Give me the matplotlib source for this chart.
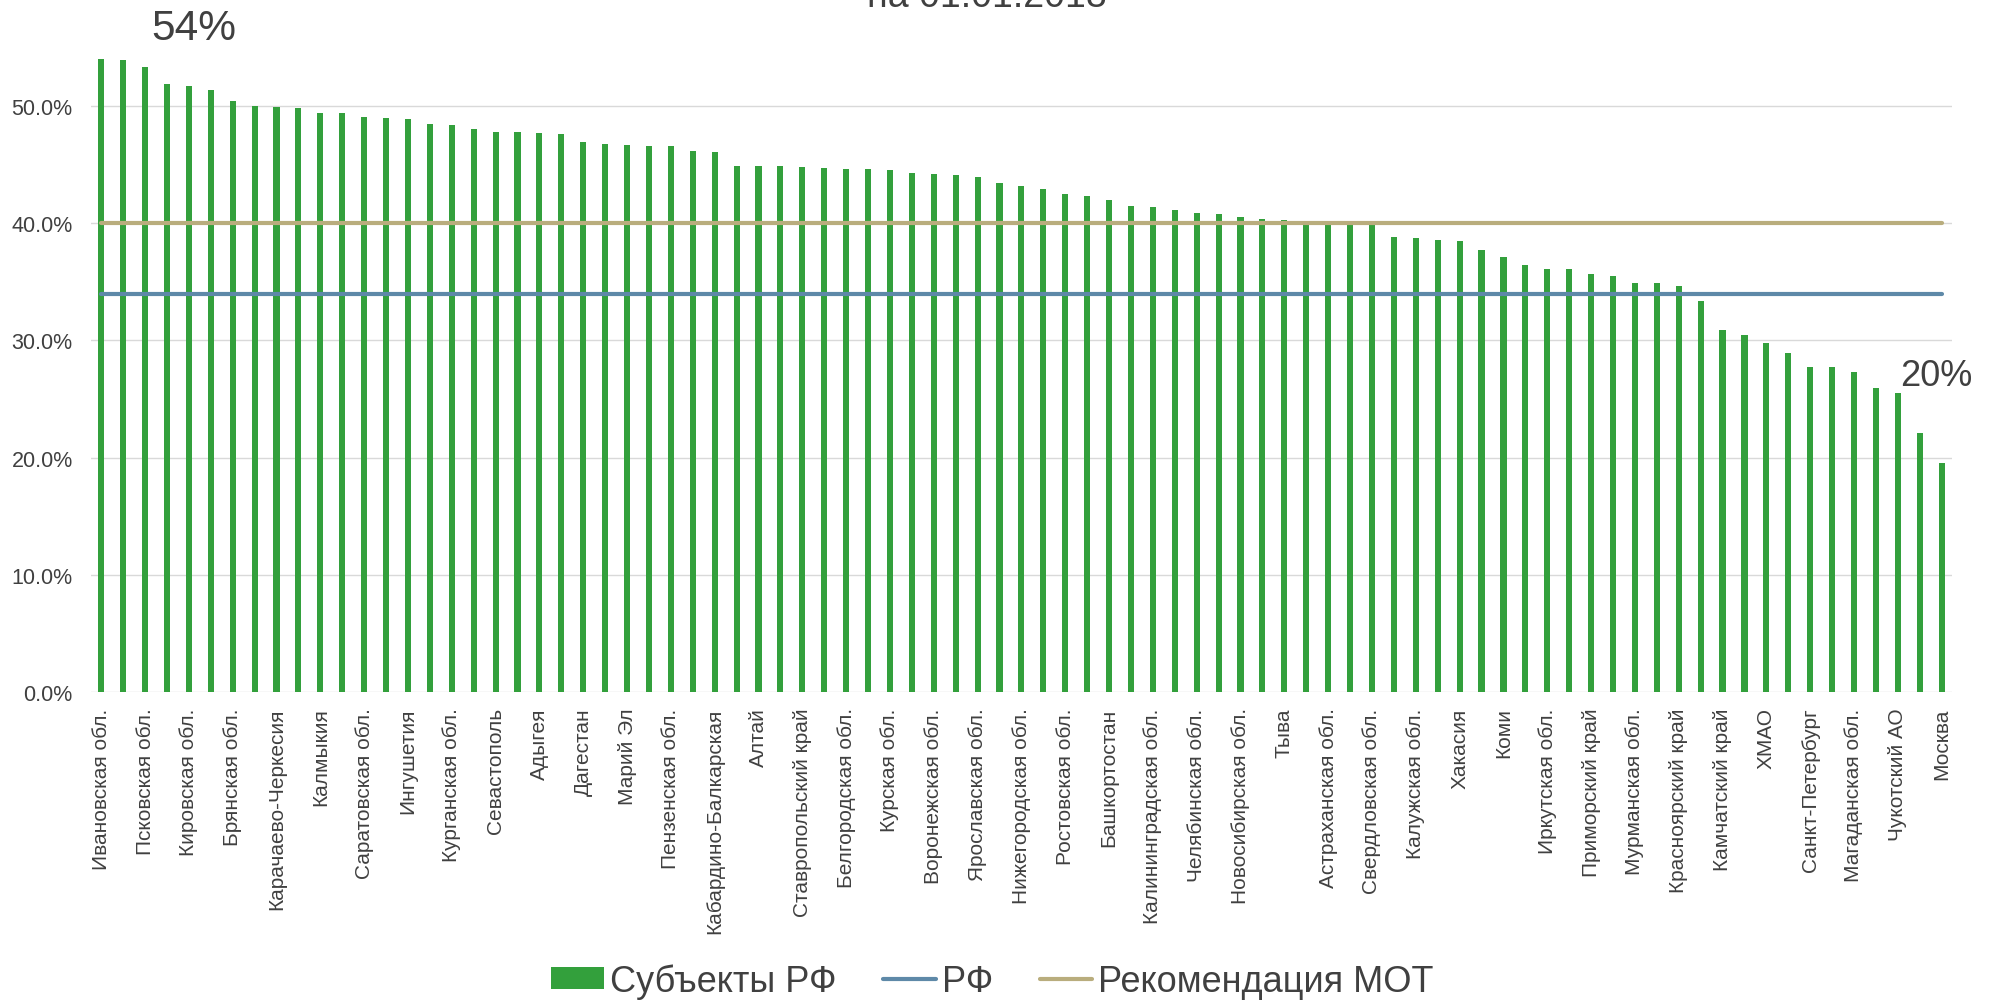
import matplotlib
matplotlib.use("Agg")
import matplotlib.pyplot as plt
import numpy as np

plt.rcParams['font.family'] = ['Liberation Sans', 'DejaVu Sans']

categories = [
    "Ивановская обл.", "Владимирская обл.", "Псковская обл.", "Смоленская обл.",
    "Кировская обл.", "Костромская обл.", "Брянская обл.", "Тамбовская обл.",
    "Карачаево-Черкесия", "Орловская обл.", "Калмыкия", "Мордовия",
    "Саратовская обл.", "Чувашия", "Ингушетия", "Северная Осетия",
    "Курганская обл.", "Алтайский край", "Севастополь", "Крым",
    "Адыгея", "Ульяновская обл.", "Дагестан", "Волгоградская обл.",
    "Марий Эл", "Новгородская обл.", "Пензенская обл.", "Липецкая обл.",
    "Кабардино-Балкарская", "Рязанская обл.", "Алтай", "Тверская обл.",
    "Ставропольский край", "Оренбургская обл.", "Белгородская обл.", "Чечня",
    "Курская обл.", "Удмуртия", "Воронежская обл.", "Пермский край",
    "Ярославская обл.", "Омская обл.", "Нижегородская обл.", "Карелия",
    "Ростовская обл.", "Бурятия", "Башкортостан", "Самарская обл.",
    "Калининградская обл.", "Краснодарский край", "Челябинская обл.", "Татарстан",
    "Новосибирская обл.", "Забайкальский край", "Тыва", "Тульская обл.",
    "Астраханская обл.", "Амурская обл.", "Свердловская обл.", "Хабаровский край",
    "Калужская обл.", "Еврейская АО", "Хакасия", "Вологодская обл.",
    "Коми", "Томская обл.", "Иркутская обл.", "Кемеровская обл.",
    "Приморский край", "Архангельская обл.", "Мурманская обл.", "Ленинградская обл.",
    "Красноярский край", "Московская обл.", "Камчатский край", "Тюменская обл.",
    "ХМАО", "Сахалинская обл.", "Санкт-Петербург", "Якутия",
    "Магаданская обл.", "ЯНАО", "Чукотский АО", "НАО",
    "Москва",
]

values_pct = [
    54.0, 53.9, 53.3, 51.9, 51.7, 51.4, 50.4, 50.0, 49.9, 49.8,
    49.4, 49.4, 49.1, 49.0, 48.9, 48.5, 48.4, 48.0, 47.8, 47.8,
    47.7, 47.6, 46.9, 46.8, 46.7, 46.6, 46.6, 46.2, 46.1, 44.9,
    44.9, 44.9, 44.8, 44.7, 44.6, 44.6, 44.5, 44.3, 44.2, 44.1,
    43.9, 43.4, 43.2, 42.9, 42.5, 42.3, 42.0, 41.5, 41.4, 41.1,
    40.9, 40.8, 40.5, 40.4, 40.3, 40.2, 40.1, 40.0, 39.9, 38.8,
    38.7, 38.6, 38.5, 37.7, 37.1, 36.4, 36.1, 36.1, 35.7, 35.5,
    34.9, 34.9, 34.6, 33.4, 30.9, 30.5, 29.8, 28.9, 27.7, 27.7,
    27.3, 25.9, 25.5, 22.1, 19.5,
]

rf_value = 34.0
mot_value = 40.0
series_names = ["Субъекты РФ", "РФ", "Рекомендация МОТ"]
max_label = "54%"
min_label = "20%"
title_line = "на 01.01.2018"

values = np.array(values_pct) / 100.0
n = len(categories)
x = np.arange(n)

GREEN = "#33A03C"
BLUE = "#5E89A8"
TAN = "#B9AD7D"
TXT = "#404040"
GRID = "#D9D9D9"

fig = plt.figure(figsize=(19.93, 10.04), dpi=100)
ax = fig.add_axes([0.04551, 0.30976, 0.93377, 0.6537])

bars = ax.bar(x, values, width=0.28, color=GREEN, zorder=2, label=series_names[0])
l_rf, = ax.plot(x, [rf_value / 100.0] * n, color=BLUE, lw=3.0,
                solid_capstyle='round', zorder=3, label=series_names[1])
l_mot, = ax.plot(x, [mot_value / 100.0] * n, color=TAN, lw=3.0,
                 solid_capstyle='round', zorder=3, label=series_names[2])

ax.set_xlim(-0.48, n - 1 + 0.46)
ax.set_ylim(0, 0.56)
yt = np.arange(0, 0.51, 0.1)
ax.set_yticks(yt)
ax.set_yticklabels([f"{v*100:.1f}%" for v in yt], fontsize=15.5, color=TXT)
ax.yaxis.grid(True, color=GRID, lw=1.0, zorder=0)
ax.set_axisbelow(True)

ax.set_xticks(x[::2])
ax.set_xticklabels(categories[::2], rotation=90, fontsize=15, color=TXT,
                   ha='center', va='top')

ax.tick_params(axis='both', length=0)
ax.tick_params(axis='y', pad=13)
ax.tick_params(axis='x', pad=11)
for s in ax.spines.values():
    s.set_visible(False)

ax.text(4.24, 0.5575, max_label, fontsize=30.5, color=TXT, ha='center',
        va='baseline', clip_on=False)
ax.text(83.75, 0.262, min_label, fontsize=26, color=TXT, ha='center',
        va='baseline', clip_on=False)

fig.text(0.495, 1 - 7.3 / 1004, title_line, fontsize=27, color=TXT,
         ha='center', va='baseline')

leg = fig.legend([bars, l_rf, l_mot], series_names,
                 loc='center', bbox_to_anchor=(0.498, 0.0219), ncol=3,
                 frameon=False, fontsize=26, handlelength=1.45,
                 handletextpad=0.17, columnspacing=1.3, handleheight=0.53,
                 borderaxespad=0, borderpad=0)
for t in leg.get_texts():
    t.set_color(TXT)

fig.savefig("out.png", dpi=100)
